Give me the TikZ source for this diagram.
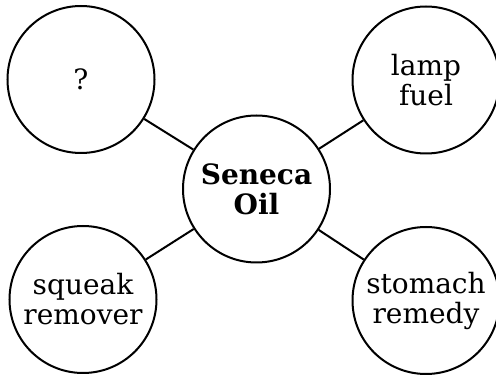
\documentclass[tikz,border=0pt]{standalone}
\usepackage{fontspec}
\setmainfont{DejaVu Serif}
\tikzset{
  bubble/.style={circle, draw=black, line width=2pt, minimum size=147pt, inner sep=0pt, align=center, font=\fontsize{28}{30}\selectfont},
  link/.style={line width=2pt}
}
\begin{document}
\begin{tikzpicture}[x=1pt,y=1pt]
\useasboundingbox (0,0) rectangle (496,375);
\node[bubble] (c) at (256.5,186) {\textbf{Seneca}\\\textbf{Oil}};
\node[bubble] (q) at (81,295.5) {?};
\node[bubble] (l) at (426,295) {lamp\\fuel};
\node[bubble] (s) at (83,75.5) {squeak\\remover};
\node[bubble] (m) at (426,74.5) {stomach\\remedy};
\draw[link] (c) -- (q);
\draw[link] (c) -- (l);
\draw[link] (c) -- (s);
\draw[link] (c) -- (m);
\end{tikzpicture}
\end{document}
